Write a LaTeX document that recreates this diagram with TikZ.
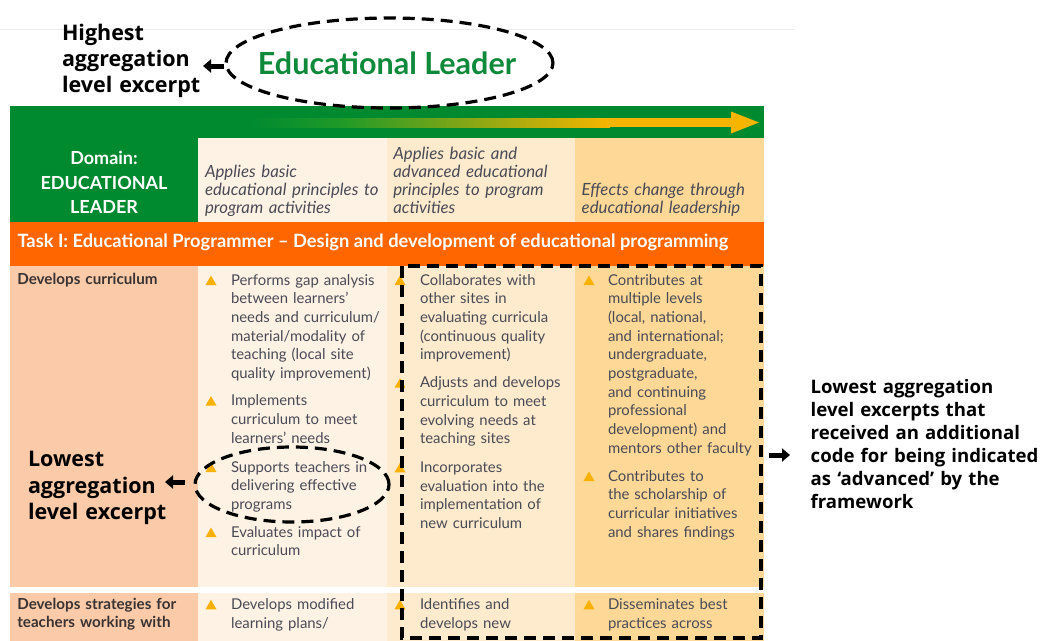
\documentclass[tikz,border=0pt]{standalone}
\usepackage{fontspec}
\setmainfont{Lato}
\newfontfamily\annotfont{Open Sans}
\usetikzlibrary{arrows.meta}

\definecolor{bandgreen}{HTML}{008A30}
\definecolor{arrgreen}{HTML}{1F9A28}
\definecolor{arrolive}{HTML}{A8A612}
\definecolor{arrgold}{HTML}{F7B500}
\definecolor{taskorange}{HTML}{FF6600}
\definecolor{peach}{HTML}{FBCBA9}
\definecolor{cellA}{HTML}{FEF2E4}
\definecolor{cellB}{HTML}{FEEBCD}
\definecolor{cellC}{HTML}{FED897}
\definecolor{bulletc}{HTML}{F8B100}
\definecolor{bodyc}{HTML}{4A4A57}
\definecolor{labelc}{HTML}{3A3232}
\definecolor{elgreen}{HTML}{0E8A3A}

\begin{document}
\begin{tikzpicture}[x=1pt,y=-1pt,
 body/.style={anchor=base west, inner sep=0pt, outer sep=0pt, text=bodyc, font=\fontsize{14.9}{18.7}\selectfont, text width=170pt, align=left},
 hdr/.style={anchor=base west, inner sep=0pt, outer sep=0pt, text=bodyc, font=\fontsize{16.8}{18}\selectfont\itshape, text width=200pt, align=left},
 rowlabel/.style={anchor=base west, inner sep=0pt, outer sep=0pt, text=labelc, font=\fontsize{15.2}{18}\selectfont\bfseries, text width=185pt, align=left},
 annot/.style={anchor=base west, inner sep=0pt, outer sep=0pt, text=black, font=\annotfont\bfseries\fontsize{21.5}{26.3}\selectfont, text width=260pt, align=left},
 dashline/.style={draw=black, line width=3.2pt, dash pattern=on 12pt off 7pt},
 blockarrow/.style={line width=5pt, -{Triangle[length=8pt,width=13pt]}},
 bullet/.pic={\fill[bulletc] (-5.5,0) -- (5.5,0) -- (0,-9.5) -- cycle;}
]
\useasboundingbox (0,0) rectangle (1044,640);
\fill[white] (0,0) rectangle (1044,640);
\draw[black!8, line width=0.8pt] (0,29) -- (795,29);

% ---------- table background ----------
\fill[bandgreen] (10,106) rectangle (764,138);
\fill[bandgreen] (10,138) rectangle (198,222);
\fill[cellA] (198,138) rectangle (387,222);
\fill[cellB] (387,138) rectangle (575,222);
\fill[cellC] (575,138) rectangle (764,222);
\fill[taskorange] (10,222) rectangle (764,266);
\fill[peach] (10,266) rectangle (198,587);
\fill[cellA] (198,266) rectangle (387,587);
\fill[cellB] (387,266) rectangle (575,587);
\fill[cellC] (575,266) rectangle (764,587);
\fill[peach] (10,593) rectangle (198,645);
\fill[cellA] (198,593) rectangle (387,645);
\fill[cellB] (387,593) rectangle (575,645);
\fill[cellC] (575,593) rectangle (764,645);

% ---------- gradient arrow ----------
\shade[left color=bandgreen, right color=arrgreen] (250,118) rectangle (340,127);
\shade[left color=arrgreen, middle color=arrolive, right color=arrgold] (340,118) rectangle (610,127);
\fill[arrgold] (609,118) rectangle (732,127);
\fill[arrgold] (731,111.5) -- (759,122.5) -- (731,133.5) -- cycle;

% ---------- header ----------
\node[anchor=base, inner sep=0pt, text=white, font=\fontsize{18}{24.8}\selectfont\bfseries, text width=185pt, align=center] (domain) at (104,164.3) {Domain:\\EDUCATIONAL\\LEADER};
\node[hdr] (h1) at (205,177.3) {Applies basic\\educational principles to\\program activities};
\node[hdr] (h2) at (393.3,159) {Applies basic and\\advanced educational\\principles to program\\activities};
\node[hdr] (h3) at (581.7,195) {Effects change through\\educational leadership};
\node[anchor=base west, inner sep=0pt, text=white, font=\fontsize{18.3}{20}\selectfont\bfseries] (task) at (17.3,247) {Task I: Educational Programmer -- Design and development of educational programming};

% ---------- row 1 ----------
\node[rowlabel] (r1) at (17.3,284.5) {Develops curriculum};

\pic at (211,285) {bullet};
\node[body] (a1) at (231,285) {Performs gap analysis\\between learners’\\needs and curriculum/\\material/modality of\\teaching (local site\\quality improvement)};
\pic at (211,405.6) {bullet};
\node[body] (a2) at (231,405.6) {Implements\\curriculum to meet\\learners’ needs};
\pic at (211,472) {bullet};
\node[body] (a3) at (231,472) {Supports teachers in\\delivering effective\\programs};
\pic at (211,537) {bullet};
\node[body] (a4) at (231,537) {Evaluates impact of\\curriculum};

\pic at (400,285) {bullet};
\node[body] (b1) at (420,285) {Collaborates with\\other sites in\\evaluating curricula\\(continuous quality\\improvement)};
\pic at (400,387.7) {bullet};
\node[body] (b2) at (420,387.7) {Adjusts and develops\\curriculum to meet\\evolving needs at\\teaching sites};
\pic at (400,472.3) {bullet};
\node[body] (b3) at (420,472.3) {Incorporates\\evaluation into the\\implementation of\\new curriculum};

\pic at (589,285) {bullet};
\node[body] (c1) at (608,285) {Contributes at\\multiple levels\\(local, national,\\and international;\\undergraduate,\\postgraduate,\\and continuing\\professional\\development) and\\mentors other faculty};
\pic at (589,481) {bullet};
\node[body] (c2) at (608,481) {Contributes to\\the scholarship of\\curricular initiatives\\and shares findings};

% ---------- row 2 ----------
\node[rowlabel] (r2) at (17.3,609.3) {Develops strategies for\\teachers working with};
\pic at (211,609.3) {bullet};
\node[body] (d1) at (231,609.3) {Develops modified\\learning plans/};
\pic at (400,609.3) {bullet};
\node[body] (d2) at (420,609.3) {Identifies and\\develops new};
\pic at (589,609.3) {bullet};
\node[body] (d3) at (608,609.3) {Disseminates best\\practices across};

% ---------- annotations ----------
\node[anchor=base, inner sep=0pt, text=elgreen, font=\fontsize{30.5}{32}\selectfont\bfseries] (EL) at (387,74) {Educational Leader};
\draw[dashline] (389.5,63) ellipse [x radius=163.5pt, y radius=45pt];

\node[annot] (hi) at (62,40) {Highest\\aggregation\\level excerpt};
\coordinate (hiS) at (224,66);
\coordinate (hiE) at (203,66);
\draw[blockarrow] (hiS) -- (hiE);

\draw[dashline] (292,484.5) ellipse [x radius=97pt, y radius=37.5pt];
\node[annot] (lo) at (28,466.7) {Lowest\\aggregation\\level excerpt};
\coordinate (loS) at (185,482);
\coordinate (loE) at (165,482);
\draw[blockarrow] (loS) -- (loE);

\draw[dashline] (402,266) rectangle (761,638);
\coordinate (rtS) at (769,455);
\coordinate (rtE) at (790,455);
\draw[blockarrow] (rtS) -- (rtE);
\node[annot, font=\annotfont\bfseries\fontsize{18.6}{23}\selectfont] (rt) at (810.7,393) {Lowest aggregation\\level excerpts that\\received an additional\\code for being indicated\\as ‘advanced’ by the\\framework};
\end{tikzpicture}
\end{document}
